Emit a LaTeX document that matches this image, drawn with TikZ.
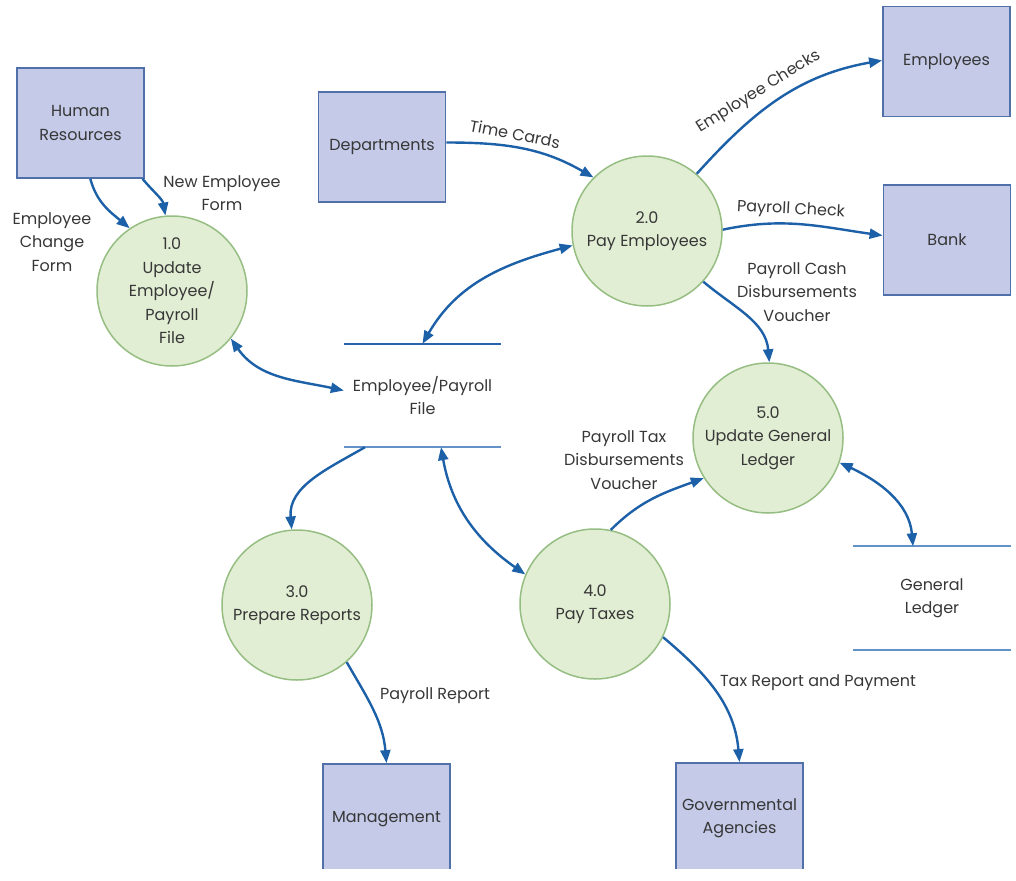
\documentclass[tikz,border=0pt]{standalone}
\usepackage{fontspec}
\setmainfont{Poppins}
\usetikzlibrary{arrows.meta}
\definecolor{boxfill}{RGB}{196,202,232}
\definecolor{boxline}{RGB}{80,112,170}
\definecolor{procfill}{RGB}{226,238,212}
\definecolor{procline}{RGB}{150,190,130}
\definecolor{flow}{RGB}{28,96,168}
\definecolor{txt}{RGB}{55,55,55}
\definecolor{storedark}{RGB}{40,100,170}
\definecolor{storelight}{RGB}{100,145,200}
\tikzset{
  entity/.style={draw=boxline, fill=boxfill, line width=1.8pt, minimum width=127pt, minimum height=110pt, align=center, inner sep=2pt},
  proc/.style={circle, draw=procline, fill=procfill, line width=1.5pt, minimum size=150pt, align=center, inner sep=0pt},
  store/.style={minimum width=157pt, minimum height=103pt, align=center, inner sep=0pt},
  flowline/.style={draw=flow, line width=2.4pt, -{Triangle[length=13pt,width=10pt]}},
  bothline/.style={draw=flow, line width=2.4pt, {Triangle[length=13pt,width=10pt]}-{Triangle[length=13pt,width=10pt]}},
  lbl/.style={align=center, inner sep=0pt}
}
\begin{document}
\begin{tikzpicture}[x=1pt,y=-1pt, font=\fontsize{16}{23.5}\selectfont, text=txt]
\useasboundingbox (0,0) rectangle (1016,880);
\clip (0,0) rectangle (1016,868);
% entities
\node[entity] (hr) at (80.5,123) {Human\\Resources};
\node[entity] (dep) at (382,147) {Departments};
\node[entity] (emp) at (946.5,61.5) {Employees};
\node[entity] (bank) at (947,240) {Bank};
\node[entity] (mgmt) at (386.5,819) {Management};
\node[entity] (gov) at (739.5,818) {Governmental\\Agencies};
% processes
\node[proc] (c1) at (172,291) {1.0\\Update\\Employee/\\Payroll\\File};
\node[proc] (c2) at (647,231) {2.0\\Pay Employees};
\node[proc] (c3) at (297,605) {3.0\\Prepare Reports};
\node[proc] (c4) at (595,604) {4.0\\Pay Taxes};
\node[proc] (c5) at (768,438) {5.0\\Update General\\Ledger};
% stores
\node[store] (s1) at (422.5,395.5) {Employee/Payroll\\File};
\draw[storedark, line width=2.6pt] (s1.north west) -- (s1.north east);
\draw[storelight, line width=1.8pt] (s1.south west) -- (s1.south east);
\node[store] (gl) at (932,598) {General\\Ledger};
\draw[storelight, line width=1.8pt] (gl.north west) -- (gl.north east);
\draw[storelight, line width=1.8pt] (gl.south west) -- (gl.south east);
% flows
\draw[flowline] (hr.-80) to[out=-75,in=140] (c1.124);
\draw[flowline] (hr.-42) to[out=-50,in=100] (c1.95);
\draw[flowline] (dep.4) to[out=0,in=150] (c2.135);
\draw[flowline] (c2.49) to[out=48,in=190] (emp.179);
\draw[flowline] (c2.1) to[out=12,in=172] (bank.176);
\draw[flowline] (c2.-42) to[out=-40,in=95] (c5.89);
\draw[bothline] (s1.north) to[out=60,in=195] (c2.191);
\draw[bothline] (c1.-39) to[out=-55,in=168] ([yshift=5pt]s1.west);
\draw[flowline] ([xshift=-57.5pt]s1.south) to[out=-150,in=95] (c3.94);
\draw[bothline] ([xshift=18.5pt]s1.south) to[out=-80,in=145] (c4.157);
\draw[flowline] (c4.78) to[out=45,in=200] (c5.212);
\draw[bothline] (c5.-19) to[out=-25,in=95] ([xshift=-19pt]gl.north);
\draw[flowline] (c3.-49) to[out=-60,in=95] (mgmt.north);
\draw[flowline] (c4.-26) to[out=-40,in=95] (gov.north);
% labels
\node[lbl] (l1) at (52,242) {Employee\\Change\\Form};
\node[lbl] (l2) at (222,193) {New Employee\\Form};
\node[lbl, rotate=-11] (l3) at (515,134) {Time Cards};
\node[lbl, rotate=32] (l4) at (759,92) {Employee Checks};
\node[lbl, rotate=-3] (l5) at (791,210) {Payroll Check};
\node[lbl] (l6) at (797,292) {Payroll Cash\\Disbursements\\Voucher};
\node[lbl] (l7) at (624,460) {Payroll Tax\\Disbursements\\Voucher};
\node[lbl] (l8) at (435,696) {Payroll Report};
\node[lbl] (l9) at (818,683) {Tax Report and Payment};
\end{tikzpicture}
\end{document}
